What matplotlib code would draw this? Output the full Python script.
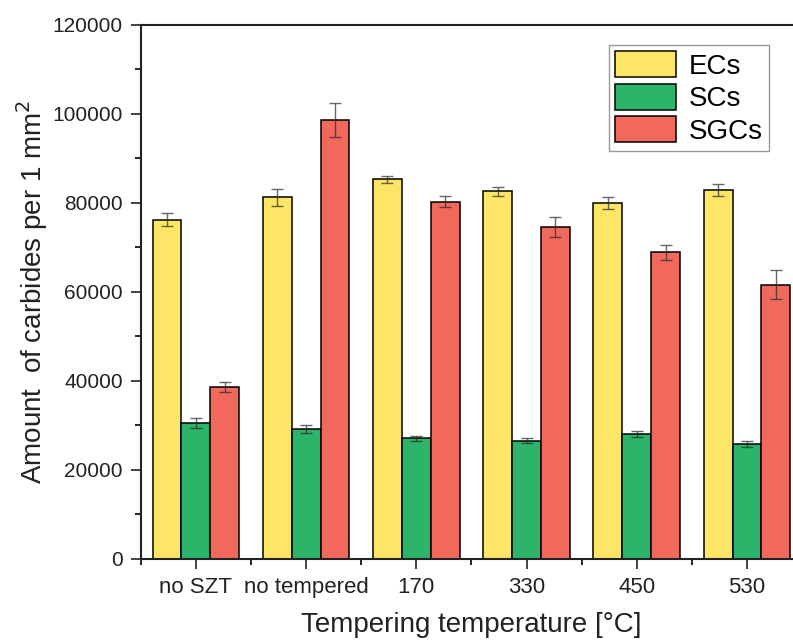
import matplotlib.pyplot as plt
import numpy as np
from matplotlib.ticker import MultipleLocator

# Data.
Categories = ['no SZT', 'no tempered', '170', '330', '450', '530']
Labels = ['ECs', 'SCs', 'SGCs']
EC_Vals = [76200, 81300, 85300, 82600, 80000, 82900]
EC_Errs = [1450, 1900, 800, 1100, 1400, 1400]
SC_Vals = [30500, 29300, 27100, 26600, 28000, 25800]
SC_Errs = [1080, 900, 520, 640, 680, 640]
SGC_Vals = [38600, 98700, 80300, 74600, 68900, 61600]
SGC_Errs = [1160, 3800, 1160, 2160, 1720, 3250]

# Plot properties.
FontType = ['Liberation Sans', 'DejaVu Sans']
Colors = ['#FDE566', '#2CB56A', '#F0695C']
BarWidth = 0.262

plt.rcParams['font.family'] = FontType
fig = plt.figure(figsize=(7.93, 6.41), dpi=100)
ax = fig.add_axes([0.1775, 0.128, 0.834, 0.833])

x = np.arange(len(Categories))
Vals = [EC_Vals, SC_Vals, SGC_Vals]
Errs = [EC_Errs, SC_Errs, SGC_Errs]
for i in range(3):
    ax.bar(x + (i - 1) * BarWidth, Vals[i], BarWidth, color=Colors[i],
           edgecolor='black', linewidth=1.1, label=Labels[i], zorder=2)
    ax.errorbar(x + (i - 1) * BarWidth, Vals[i], yerr=Errs[i], fmt='none',
                ecolor='#2a2a2a', alpha=0.7, elinewidth=1.0, capsize=4,
                capthick=1.0, zorder=3)

# Configure axes.
ax.set_xlim(-0.5, 5.5)
ax.set_ylim(0, 120000)
ax.set_xticks(x)
ax.set_xticklabels(Categories)
ax.set_xticks([-0.5] + list(x[:-1] + 0.5), minor=True)
ax.yaxis.set_major_locator(MultipleLocator(20000))
ax.yaxis.set_minor_locator(MultipleLocator(10000))
ax.tick_params(axis='both', which='major', length=7, width=1.2,
               direction='out', colors='#222222', labelcolor='#222222')
ax.tick_params(axis='y', which='major', labelsize=15, pad=6)
ax.tick_params(axis='x', which='major', labelsize=16, pad=6)
ax.tick_params(axis='both', which='minor', length=4, width=1.2, direction='out')
for s in ['left', 'bottom', 'top', 'right']:
    ax.spines[s].set_linewidth(1.5)
    ax.spines[s].set_color('#222222')

ax.set_xlabel('Tempering temperature [\u00b0C]', fontsize=20, color='#222222', labelpad=10)
ax.set_ylabel('Amount  of carbides per 1 mm$^2$', fontsize=20, color='#222222', labelpad=2)

leg = ax.legend(loc='upper left', bbox_to_anchor=(0.708, 0.962), fontsize=20,
                handlelength=2.2, handleheight=1.05, handletextpad=0.45,
                labelspacing=0.15, borderpad=0.22, borderaxespad=0,
                fancybox=False, framealpha=1, edgecolor='#999999')
leg.get_frame().set_linewidth(1.0)

fig.savefig('out.png', dpi=100)
